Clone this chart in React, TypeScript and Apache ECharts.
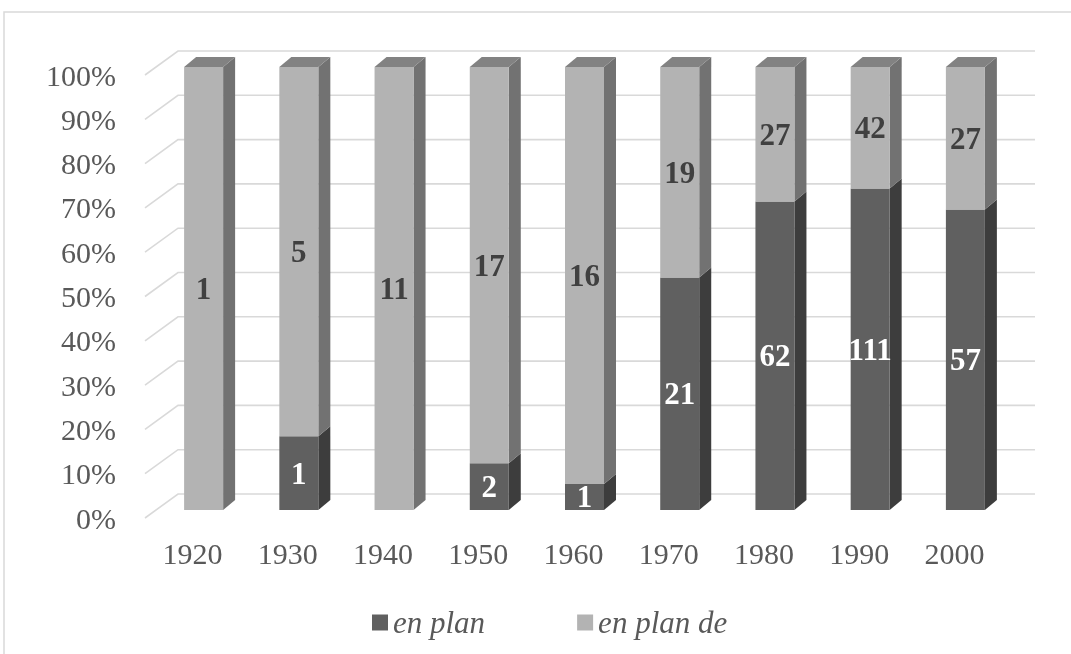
import React, { useEffect, useRef } from "react";
import * as echarts from "echarts";

const years = ["1920", "1930", "1940", "1950", "1960", "1970", "1980", "1990", "2000"];
const enPlan = [0, 1, 0, 2, 1, 21, 62, 111, 57];
const enPlanDe = [1, 5, 11, 17, 16, 19, 27, 42, 27];
const yTicks = [0, 10, 20, 30, 40, 50, 60, 70, 80, 90, 100];
const seriesNames = ["en plan", "en plan de"];

const FONT = "'Liberation Serif', 'Times New Roman', serif";

// 3D geometry (pixels)
const FLOOR_DX = 33;
const FLOOR_DY = -24;
const BAR_OFF_X = 11;
const BAR_OFF_Y = -8;
const BAR_DX = 12;
const BAR_DY = -10;
const BAR_W = 39;

const palettes = [
  { front: "#606060", side: "#3d3d3d", top: "#4a4a4a", label: "#ffffff" },
  { front: "#b3b3b3", side: "#727272", top: "#828282", label: "#404040" },
];

export default function App() {
  const ref = useRef<HTMLDivElement>(null);

  useEffect(() => {
    if (!ref.current) return;
    document.body.style.margin = "0";
    const chart = echarts.init(ref.current, null, { renderer: "svg" });

    const totals = years.map((_, i) => enPlan[i] + enPlanDe[i]);
    const segs = [enPlan, enPlanDe].map((arr, s) =>
      arr.map((v, i) => {
        const below = s === 0 ? 0 : enPlan[i];
        const start = (below / totals[i]) * 100;
        const end = ((below + v) / totals[i]) * 100;
        return [i, start, end, v];
      })
    );

    const makeBarRender = (s: number) => (params: any, api: any) => {
      const idx = api.value(0);
      const start = api.value(1);
      const end = api.value(2);
      const raw = api.value(3);
      if (!raw) return null;
      const p0 = api.coord([idx, start]);
      const p1 = api.coord([idx, end]);
      const x0 = p0[0] - BAR_W / 2 + BAR_OFF_X;
      const x1 = x0 + BAR_W;
      const yb = p0[1] + BAR_OFF_Y;
      const yt = p1[1] + BAR_OFF_Y;
      const pal = palettes[s];
      const isTop = end >= 99.999;
      const children: any[] = [
        {
          type: "polygon",
          shape: {
            points: [
              [x1, yb],
              [x1 + BAR_DX, yb + BAR_DY],
              [x1 + BAR_DX, yt + BAR_DY],
              [x1, yt],
            ],
          },
          style: { fill: pal.side },
        },
        {
          type: "rect",
          shape: { x: x0, y: yt, width: BAR_W, height: yb - yt },
          style: { fill: pal.front },
        },
      ];
      if (isTop) {
        children.push({
          type: "polygon",
          shape: {
            points: [
              [x0, yt],
              [x0 + BAR_DX, yt + BAR_DY],
              [x1 + BAR_DX, yt + BAR_DY],
              [x1, yt],
            ],
          },
          style: { fill: pal.top },
        });
      }
      children.push({
        type: "text",
        x: (x0 + x1) / 2,
        y: (yt + yb) / 2,
        style: {
          text: String(raw),
          fill: pal.label,
          font: `bold 31px ${FONT}`,
          align: "center",
          verticalAlign: "middle",
        },
      });
      return { type: "group", children };
    };

    const gridRender = (params: any, api: any) => {
      const v = api.value(1);
      const c = api.coord([0, v]);
      const bw = api.size([1, 0])[0];
      const left = c[0] - bw / 2;
      const right = left + bw * years.length;
      return {
        type: "polyline",
        shape: {
          points: [
            [left, c[1]],
            [left + FLOOR_DX, c[1] + FLOOR_DY],
            [right + FLOOR_DX, c[1] + FLOOR_DY],
          ],
        },
        style: { stroke: "#d9d9d9", lineWidth: 1.6, fill: "none" },
      };
    };

    chart.setOption({
      animation: false,
      color: [palettes[0].front, palettes[1].front],
      grid: { left: 145, right: 69, top: 75, bottom: 136 },
      xAxis: {
        type: "category",
        data: years,
        axisLine: { show: false },
        axisTick: { show: false },
        axisLabel: { color: "#595959", fontFamily: FONT, fontSize: 30, margin: 20 },
      },
      yAxis: {
        type: "value",
        min: 0,
        max: 100,
        interval: 10,
        axisLine: { show: false },
        axisTick: { show: false },
        splitLine: { show: false },
        axisLabel: {
          color: "#595959",
          fontFamily: FONT,
          fontSize: 30,
          margin: 29,
          formatter: "{value}%",
        },
      },
      legend: {
        data: seriesNames,
        left: 367,
        top: 602,
        icon: "rect",
        itemWidth: 16,
        itemHeight: 16,
        itemGap: 92,
        textStyle: { color: "#595959", fontFamily: FONT, fontSize: 31, fontStyle: "italic" },
      },
      graphic: [
        {
          type: "rect",
          shape: { x: 4, y: 12, width: 1100, height: 700 },
          style: { fill: "none", stroke: "#d9d9d9", lineWidth: 1.5 },
          silent: true,
        },
      ],
      series: [
        {
          type: "custom",
          name: "grid",
          z: 1,
          renderItem: gridRender,
          data: yTicks.map((t) => [0, t]),
          encode: { x: 0, y: 1 },
          silent: true,
        },
        {
          type: "custom",
          name: seriesNames[0],
          z: 2,
          itemStyle: { color: palettes[0].front },
          renderItem: makeBarRender(0),
          data: segs[0],
          encode: { x: 0, y: 2 },
        },
        {
          type: "custom",
          name: seriesNames[1],
          z: 3,
          itemStyle: { color: palettes[1].front },
          renderItem: makeBarRender(1),
          data: segs[1],
          encode: { x: 0, y: 2 },
        },
      ],
    });

    return () => chart.dispose();
  }, []);

  return (
    <div
      ref={ref}
      style={{ position: "fixed", left: 0, top: 0, width: 1071, height: 654 }}
    />
  );
}
